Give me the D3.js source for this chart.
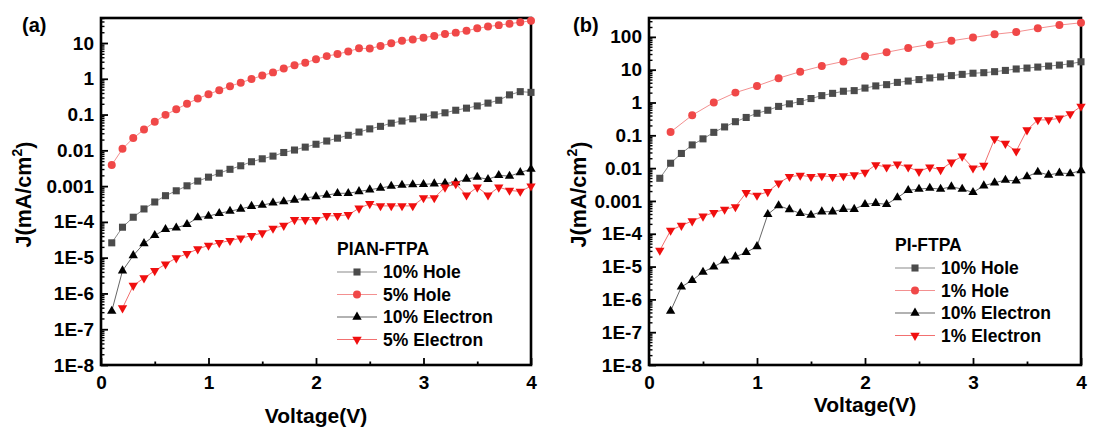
<!DOCTYPE html>
<html>
<head>
<meta charset="utf-8">
<script src="https://cdn.jsdelivr.net/npm/d3@7"></script>
<style>
  body { margin: 0; background: #fff; }
  svg { font-family: "Liberation Sans", Arial, sans-serif; font-weight: bold; }
</style>
</head>
<body>
<script>
// ---- data ----
var volts = [0.1,0.2,0.3,0.4,0.5,0.6,0.7,0.8,0.9,1.0,1.1,1.2,1.3,1.4,1.5,1.6,1.7,1.8,1.9,2.0,
             2.1,2.2,2.3,2.4,2.5,2.6,2.7,2.8,2.9,3.0,3.1,3.2,3.3,3.4,3.5,3.6,3.7,3.8,3.9,4.0];
var voltsFrom02 = volts.slice(1);
var voltsStep02 = [0.2,0.4,0.6,0.8,1.0,1.2,1.4,1.6,1.8,2.0,2.2,2.4,2.6,2.8,3.0,3.2,3.4,3.6,3.8,4.0];

// (a) PIAN-FTPA
var a_hole10 = [2.6e-5,7.1e-5,1.35e-4,2.3e-4,3.6e-4,5.4e-4,7.4e-4,1.02e-3,1.38e-3,1.78e-3,2.3e-3,2.95e-3,3.7e-3,4.8e-3,5.8e-3,6.9e-3,8.7e-3,0.0102,
                0.0123,0.0148,0.0182,0.0219,0.0263,0.0324,0.0398,0.0468,0.0575,0.066,0.076,0.085,0.098,0.112,0.132,0.151,0.174,0.209,0.251,0.355,0.437,0.417];
var a_hole5 = [0.0039,0.011,0.022,0.038,0.063,0.098,0.14,0.20,0.28,0.37,0.48,0.62,0.78,0.98,1.23,1.51,1.95,2.4,
               2.8,3.5,4.3,4.9,5.8,7.1,7.0,8.3,9.8,11.5,12.6,14.1,15.8,17.8,19.5,21.9,25.7,28.8,31.6,34.7,38,41.7];
var a_elec10 = [3.2e-7,4.3e-6,1.15e-5,2.5e-5,4.2e-5,6.2e-5,6.8e-5,8.5e-5,1.32e-4,1.45e-4,1.74e-4,2.0e-4,2.3e-4,2.75e-4,2.95e-4,3.4e-4,3.7e-4,4.1e-4,
                4.7e-4,5.1e-4,5.6e-4,6.3e-4,6.3e-4,7.1e-4,7.9e-4,8.9e-4,1.0e-3,1.07e-3,1.1e-3,1.12e-3,1.17e-3,1.2e-3,1.26e-3,1.58e-3,1.78e-3,1.55e-3,2.0e-3,1.9e-3,2.4e-3,3.0e-3];
var a_elec5 = [3.9e-7,1.66e-6,2.7e-6,4.3e-6,6.6e-6,9.8e-6,1.29e-5,1.74e-5,2.2e-5,2.6e-5,3.0e-5,3.5e-5,4.1e-5,4.9e-5,6.6e-5,7.9e-5,1.15e-4,
               1.15e-4,1.15e-4,1.48e-4,1.48e-4,1.58e-4,2.4e-4,3.2e-4,2.8e-4,2.8e-4,2.8e-4,2.8e-4,4.7e-4,4.7e-4,9.3e-4,1.15e-3,5.6e-4,9.3e-4,5.6e-4,9.3e-4,7.6e-4,7.1e-4,1.0e-3];

// (b) PI-FTPA
var b_hole10 = [0.0049,0.0141,0.028,0.051,0.078,0.123,0.18,0.26,0.35,0.47,0.58,0.76,0.91,1.07,1.32,1.62,1.9,2.2,
                2.3,2.75,3.2,3.5,4.1,4.5,5.0,5.6,6.0,6.6,7.2,7.8,8.1,8.7,9.5,10.5,11.2,12.0,12.9,13.8,15.1,17.4];
var b_hole1 = [0.126,0.41,1.0,2.0,3.2,5.5,8.7,12.9,17.8,25.7,33.9,45.7,58.9,75.9,95.5,120,141,182,229,269];
var b_elec10 = [4.4e-7,2.4e-6,3.8e-6,6.8e-6,9.8e-6,1.5e-5,2.0e-5,2.7e-5,4.1e-5,3.9e-4,7.2e-4,5.5e-4,4.2e-4,3.7e-4,4.7e-4,4.7e-4,5.6e-4,
                5.6e-4,7.9e-4,8.5e-4,7.9e-4,1.26e-3,2.1e-3,2.3e-3,2.45e-3,2.3e-3,2.7e-3,2.3e-3,1.82e-3,2.9e-3,3.6e-3,4.3e-3,4.1e-3,5.5e-3,7.6e-3,6.2e-3,7.1e-3,6.8e-3,8.5e-3];
var b_elec1 = [3.1e-5,1.26e-4,1.78e-4,2.45e-4,3.4e-4,4.4e-4,5.5e-4,6.6e-4,1.78e-3,1.48e-3,1.9e-3,3.5e-3,5.5e-3,6.0e-3,5.5e-3,5.8e-3,5.5e-3,5.8e-3,
               6.2e-3,7.4e-3,0.0126,0.0107,0.0132,0.0107,7.9e-3,0.0107,8.9e-3,0.0151,0.0229,0.010,0.012,0.078,0.056,0.033,0.145,0.295,0.295,0.33,0.45,0.76];

var xTicks = [0, 1, 2, 3, 4];
var yLabelsA = ["10","1","0.1","0.01","0.001","1E-4","1E-5","1E-6","1E-7","1E-8"];
var yLabelsB = ["100","10","1","0.1","0.01","0.001","1E-4","1E-5","1E-6","1E-7","1E-8"];
var namesA = ["10% Hole","5% Hole","10% Electron","5% Electron"];
var namesB = ["10% Hole","1% Hole","10% Electron","1% Electron"];

// series styles: square / circle / up / down
var styles = [
	{ shape: d3.symbolSquare,   fill: "#4b4b4b", line: "#8a8a8a", size: 50, rot: 0 },
	{ shape: d3.symbolCircle,   fill: "#f04848", line: "#f39090", size: 50, rot: 0 },
	{ shape: d3.symbolTriangle, fill: "#000000", line: "#666666", size: 38, rot: 0 },
	{ shape: d3.symbolTriangle, fill: "#f00f0f", line: "#f27070", size: 38, rot: 180 }
];

var svg = d3.select("body").append("svg")
	.attr("width", 1093)
	.attr("height", 437);

function drawPanel(p) {
	var x = d3.scaleLinear().domain([0, 4]).range([p.left, p.right]);
	var y = d3.scaleLog().domain([1e-8, p.yMax]).range([p.bottom, p.top]);

	var g = svg.append("g");

	// minor ticks
	var majors = p.yLabels.map(Number);
	var minors = y.ticks(60).filter(function(v) {
		return majors.every(function(m) { return Math.abs(m - v) / m > 1e-6; });
	});
	g.append("g")
		.attr("transform", "translate(" + p.left + ",0)")
		.call(d3.axisLeft(y).tickValues(minors).tickSize(-3.5).tickFormat(""))
		.call(function(s) { s.select(".domain").remove(); s.selectAll("line").attr("stroke-width", 1.4); });

	g.append("g")
		.attr("transform", "translate(" + p.left + ",0)")
		.call(d3.axisLeft(y).tickValues(majors).tickSize(-7).tickPadding(7)
			.tickFormat(function(d, i) { return p.yLabels[i]; }))
		.call(function(s) {
			s.select(".domain").remove();
			s.selectAll("line").attr("stroke-width", 1.8);
			s.selectAll("text").attr("font-size", 19).attr("font-family", null).attr("fill", "#000");
		});

	g.append("g")
		.attr("transform", "translate(0," + p.bottom + ")")
		.call(d3.axisBottom(x).tickValues([0.5, 1.5, 2.5, 3.5]).tickSize(-3.5).tickFormat(""))
		.call(function(s) { s.select(".domain").remove(); s.selectAll("line").attr("stroke-width", 1.8); });

	g.append("g")
		.attr("transform", "translate(0," + p.bottom + ")")
		.call(d3.axisBottom(x).tickValues(xTicks).tickSize(-7).tickPadding(11).tickFormat(d3.format("d")))
		.call(function(s) {
			s.select(".domain").remove();
			s.selectAll("line").attr("stroke-width", 1.8);
			s.selectAll("text").attr("font-size", 19).attr("font-family", null).attr("fill", "#000");
		});

	// frame
	g.append("rect")
		.attr("x", p.left).attr("y", p.top)
		.attr("width", p.right - p.left).attr("height", p.bottom - p.top)
		.attr("fill", "none").attr("stroke", "#000").attr("stroke-width", 2.6);

	// series
	var line = d3.line()
		.x(function(d) { return x(d[0]); })
		.y(function(d) { return y(d[1]); });

	p.series.forEach(function(s, k) {
		var st = styles[k];
		var pts = d3.zip(s.v, s.j);
		g.append("path")
			.datum(pts)
			.attr("d", line)
			.attr("fill", "none")
			.attr("stroke", st.line)
			.attr("stroke-width", 1);
		g.selectAll(".pt" + k)
			.data(pts)
			.enter().append("path")
			.attr("class", "pt" + k)
			.attr("transform", function(d) {
				return "translate(" + x(d[0]) + "," + y(d[1]) + ") rotate(" + st.rot + ")";
			})
			.attr("d", d3.symbol().type(st.shape).size(st.size))
			.attr("fill", st.fill);
	});

	// legend
	var lg = g.append("g").attr("transform", "translate(" + p.legX + "," + p.legY + ")");
	lg.append("text")
		.attr("x", 0).attr("y", 0).attr("dy", "0.35em")
		.attr("font-size", 17.5)
		.text(p.legTitle);
	p.names.forEach(function(n, k) {
		var st = styles[k];
		var yy = 23 + k * 22.5;
		lg.append("line")
			.attr("x1", 0).attr("x2", 40).attr("y1", yy).attr("y2", yy)
			.attr("stroke", st.line).attr("stroke-width", 1.2);
		lg.append("path")
			.attr("transform", "translate(20," + yy + ") rotate(" + st.rot + ")")
			.attr("d", d3.symbol().type(st.shape).size(st.size))
			.attr("fill", st.fill);
		lg.append("text")
			.attr("x", 46).attr("y", yy).attr("dy", "0.35em")
			.attr("font-size", 17.5)
			.text(n);
	});

	// labels
	g.append("text")
		.attr("x", (p.left + p.right) / 2).attr("y", p.voltY)
		.attr("text-anchor", "middle")
		.attr("font-size", 21)
		.text("Voltage(V)");

	var jl = g.append("text")
		.attr("transform", "translate(" + p.jX + "," + ((p.top + p.bottom) / 2 + 3) + ") rotate(-90)")
		.attr("text-anchor", "middle")
		.attr("dy", "0.35em")
		.attr("font-size", 21.5);
	jl.append("tspan").text("J(mA/cm");
	jl.append("tspan").attr("font-size", 14).attr("dy", "-0.6em").text("2");
	jl.append("tspan").attr("dy", "0.45em").text(")");

	g.append("text")
		.attr("x", p.tagX).attr("y", p.tagY)
		.attr("font-size", 20)
		.text(p.tag);
}

drawPanel({
	left: 101, right: 531, top: 18, bottom: 365, yMax: 50,
	yLabels: yLabelsA, names: namesA, legTitle: "PIAN-FTPA",
	legX: 337, legY: 249, voltY: 423, jX: 23, tag: "(a)", tagX: 22, tagY: 32,
	series: [
		{ v: volts, j: a_hole10 },
		{ v: volts, j: a_hole5 },
		{ v: volts, j: a_elec10 },
		{ v: voltsFrom02, j: a_elec5 }
	]
});

drawPanel({
	left: 649, right: 1081, top: 18, bottom: 365, yMax: 376,
	yLabels: yLabelsB, names: namesB, legTitle: "PI-FTPA",
	legX: 895, legY: 245, voltY: 412, jX: 578, tag: "(b)", tagX: 573, tagY: 32,
	series: [
		{ v: volts, j: b_hole10 },
		{ v: voltsStep02, j: b_hole1 },
		{ v: voltsFrom02, j: b_elec10 },
		{ v: volts, j: b_elec1 }
	]
});
</script>
</body>
</html>
